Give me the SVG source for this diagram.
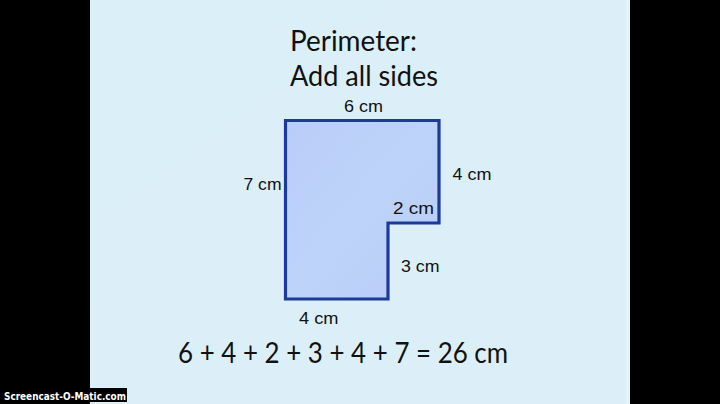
<svg xmlns="http://www.w3.org/2000/svg" width="720" height="404" viewBox="0 0 720 404">
  <defs>
    <linearGradient id="bg" x1="0" y1="0" x2="1" y2="1">
      <stop offset="0" stop-color="#dbeff9"/>
      <stop offset="1" stop-color="#dceff8"/>
    </linearGradient>
    <linearGradient id="fillg" x1="0" y1="0" x2="1" y2="1">
      <stop offset="0" stop-color="#b9cdf7"/>
      <stop offset="0.5" stop-color="#bed3f9"/>
      <stop offset="1" stop-color="#b8ccf6"/>
    </linearGradient>
    <style>
      .title { font-family: Lato, "Open Sans", "Liberation Sans", sans-serif; font-size: 28px; fill: #111111; }
      .eq { font-family: Lato, "Open Sans", "Liberation Sans", sans-serif; font-size: 28px; fill: #111111; }
      .lbl { font-family: "Liberation Sans", Arial, sans-serif; font-size: 16.5px; fill: #111111; }
      .shape { fill: url(#fillg); stroke: #1c3b98; stroke-width: 3.2; stroke-linejoin: miter; }
      .wm { font-family: "DejaVu Sans Condensed", "Liberation Sans", sans-serif; font-size: 11px; font-weight: bold; fill: #ffffff; }
    </style>
  </defs>
  <rect x="0" y="0" width="720" height="404" fill="#000000"/>
  <rect x="90" y="0" width="540" height="404" fill="url(#bg)"/>
  <rect x="626" y="0" width="4" height="404" fill="#e4f3fa"/>

  <g id="title">
    <text class="title" x="290" y="51" textLength="127" lengthAdjust="spacingAndGlyphs">Perimeter:</text>
    <text class="title" x="290" y="86" textLength="148" lengthAdjust="spacingAndGlyphs">Add all sides</text>
  </g>

  <g id="shape">
    <polygon class="shape" points="285.5,120.5 439,120.5 439,223 388,223 388,299 285.5,299"/>
  </g>

  <g id="labels">
    <text class="lbl" x="344" y="112" textLength="39" lengthAdjust="spacingAndGlyphs">6 cm</text>
    <text class="lbl" x="243.5" y="190" textLength="38" lengthAdjust="spacingAndGlyphs">7 cm</text>
    <text class="lbl" x="452.5" y="180" textLength="39" lengthAdjust="spacingAndGlyphs">4 cm</text>
    <text class="lbl" x="393" y="214" textLength="41" lengthAdjust="spacingAndGlyphs">2 cm</text>
    <text class="lbl" x="401" y="272" textLength="38.5" lengthAdjust="spacingAndGlyphs">3 cm</text>
    <text class="lbl" x="299" y="324" textLength="39.5" lengthAdjust="spacingAndGlyphs">4 cm</text>
  </g>

  <g id="equation">
    <text class="eq" x="178" y="363" textLength="330" lengthAdjust="spacingAndGlyphs">6 + 4 + 2 + 3 + 4 + 7 = 26 cm</text>
  </g>

  <g id="watermark">
    <rect x="88" y="388" width="39" height="14" fill="#000000"/>
    <text class="wm" x="4" y="399.5" textLength="122" lengthAdjust="spacingAndGlyphs">Screencast-O-Matic.com</text>
  </g>
</svg>
